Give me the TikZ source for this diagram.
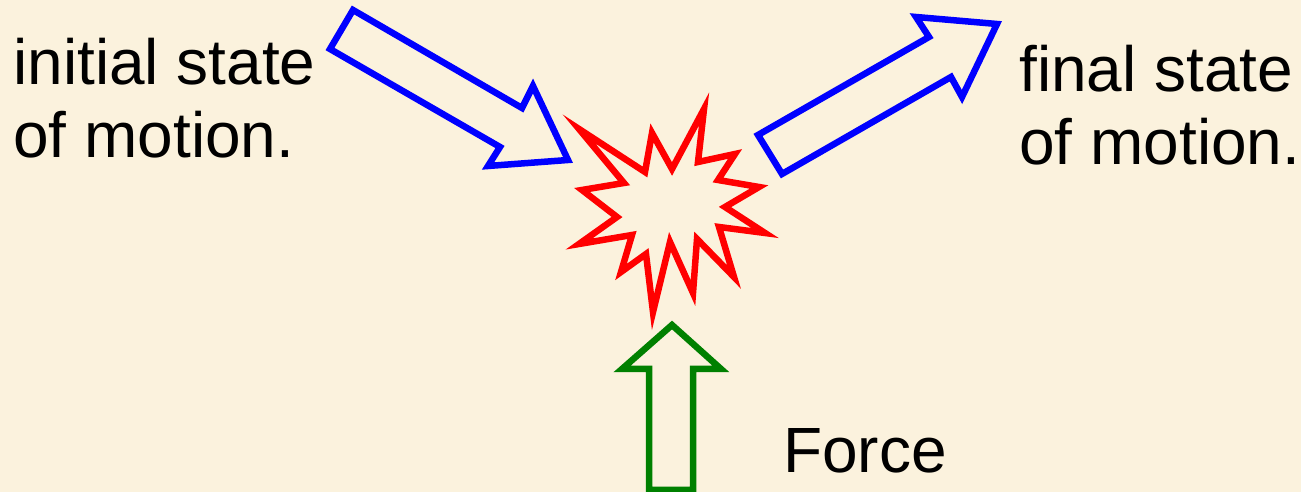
\documentclass[tikz,border=0pt]{standalone}
\usepackage{fontspec}
\setmainfont{Liberation Sans}
\usepackage{xcolor}
\usepackage{tikz}
\usetikzlibrary{positioning}

\definecolor{parchment}{HTML}{FBF2DD}
\definecolor{forcegreen}{HTML}{008000}

\begin{document}
\begin{tikzpicture}[
        x=0.02cm, y=-0.02cm,
        lbl/.style={anchor=north west, inner sep=0pt, align=left, font=\fontsize{36.4}{41.2}\selectfont},
        outline/.style={line width=0.13cm, line join=miter, fill=none},
        motion/.style={outline, draw=blue},
        burst/.style={outline, draw=red},
        push/.style={outline, draw=forcegreen}
    ]
        \fill[parchment] (0,0) rectangle (1301,492);
        \useasboundingbox (0,0) rectangle (1301,492);

        % texts
        \node[lbl] (init) at (13,38) {initial state\\of motion.};
        \node[lbl] (final) at (1019,45) {final state\\of motion.};
        \node[lbl, anchor=base west] (force) at (783,473) {Force};

        % collision
        \draw[burst] (704,109) -- (698,162) -- (735,154) -- (718,180) -- (759,187)
            -- (725,207) -- (765,233) -- (719,227) -- (734,277) -- (697,239)
            -- (693,293) -- (670,242) -- (653,312) -- (646,254) -- (621,272)
            -- (632,235) -- (579,244) -- (617,217) -- (582,190) -- (624,183)
            -- (579,129) -- (645,172) -- (652,133) -- (672,169) -- cycle;

        % incoming and outgoing motion
        \draw[motion] (353,10) -- (330,49) -- (500,147) -- (488,166) -- (568,160)
            -- (533,86) -- (522,108) -- cycle;
        \draw[motion] (782,174) -- (758,135) -- (929,37) -- (916,17) -- (997,24)
            -- (962,97) -- (951,77) -- cycle;

        % the force
        \draw[push] (672,325) -- (721,369) -- (693,369) -- (693,490) -- (649,490)
            -- (649,369) -- (622,369) -- cycle;
    \end{tikzpicture}
\end{document}
